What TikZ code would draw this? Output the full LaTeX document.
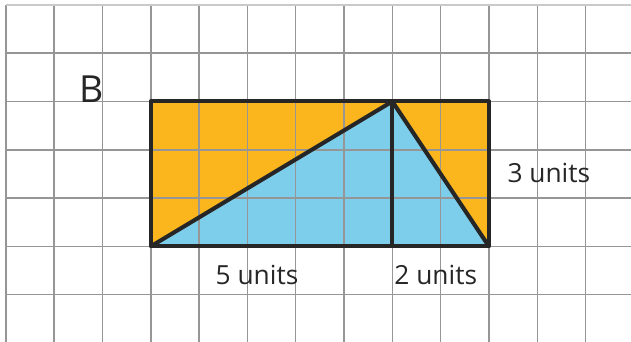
\documentclass[tikz,border=0pt]{standalone}
\usepackage{fontspec}
\setmainfont{Open Sans}
\usepackage{xcolor}
\usepackage{tikz}
\definecolor{areaorange}{RGB}{251,182,30}
\definecolor{areablue}{RGB}{125,206,235}
\definecolor{gridgray}{RGB}{150,150,150}
\tikzset{
  unitlabel/.style={font=\fontsize{15.5}{18}\selectfont,text=black!85,inner sep=0pt},
  edge/.style={line width=2.4pt,black!85,line join=round}
}

\begin{document}
\begin{tikzpicture}
  \useasboundingbox (-0.12,-0.97) rectangle (12.94,6.1);
  \fill[areaorange] (3,1) rectangle (10,4);
  \fill[areablue] (3,1) -- (8,4) -- (10,1) -- cycle;
  \foreach \x in {0,...,12}
    \draw[gridgray,line width=0.9pt] (\x,-0.97) -- (\x,6);
  \foreach \y in {0,...,5}
    \draw[gridgray,line width=0.9pt] (0,\y) -- (12.94,\y);
  \draw[gridgray!50,line width=0.9pt] (0,6) -- (12.94,6);
  \coordinate (a) at (3,1);
  \coordinate (b) at (10,1);
  \coordinate (top) at (8,4);
  \coordinate (foot) at (8,1);
  \draw[edge] (3,1) rectangle (10,4);
  \draw[edge] (a) -- (top) -- (b);
  \draw[edge] (top) -- (foot);
  \node[font=\fontsize{22}{26}\selectfont,text=black!85,inner sep=0pt] (name) at (1.78,4.25) {B};
  \node[unitlabel] (base) at (5.2,0.41) {5 units};
  \node[unitlabel] (rest) at (8.9,0.41) {2 units};
  \node[unitlabel] (height) at (11.24,2.53) {3 units};
\end{tikzpicture}
\end{document}
